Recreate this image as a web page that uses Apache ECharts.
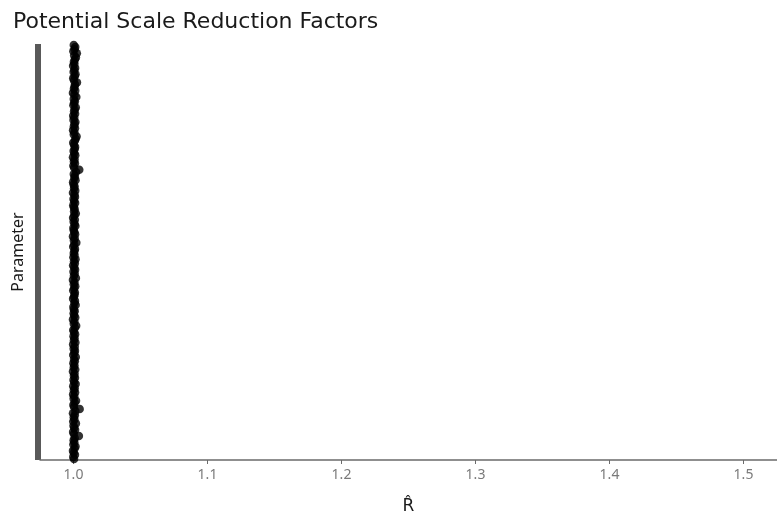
<!DOCTYPE html>
<html>
<head>
<meta charset="utf-8">
<script src="https://cdn.jsdelivr.net/npm/echarts@6/dist/echarts.min.js"></script>
<style>
  html, body { margin: 0; padding: 0; background: #fff; }
  #chart { width: 777px; height: 522px; }
</style>
</head>
<body>
<div id="chart"></div>
<script>
// R-hat values per parameter, listed from the bottom of the axis upward
const rhatValues = [
  1.0004, 0.9998, 1.0011, 1.0002, 0.9996, 1.0008, 1.0015, 0.9999, 1.0006, 1.0001,
  1.0009, 1.0040, 1.0003, 0.9997, 1.0012, 1.0005, 1.0000, 1.0018, 0.9998, 1.0007,
  1.0002, 1.0010, 0.9996, 1.0014, 1.0046, 1.0004, 0.9999, 1.0008, 1.0019, 1.0001,
  1.0006, 0.9997, 1.0012, 1.0003, 1.0009, 0.9998, 1.0016, 1.0005, 1.0000, 1.0011,
  1.0003, 1.0008, 0.9996, 1.0013, 1.0002, 1.0007, 0.9999, 1.0010, 1.0004, 1.0017,
  0.9998, 1.0006, 1.0011, 1.0001, 1.0009, 0.9997, 1.0014, 1.0003, 1.0008, 1.0000,
  1.0012, 1.0004, 0.9998, 1.0010, 1.0020, 1.0002, 1.0007, 0.9996, 1.0013, 1.0005,
  1.0001, 1.0009, 1.0003, 0.9999, 1.0016, 1.0006, 1.0011, 0.9997, 1.0004, 1.0008,
  1.0010, 0.9998, 1.0005, 1.0013, 1.0002, 1.0007, 0.9996, 1.0018, 1.0003, 1.0009,
  1.0000, 1.0012, 1.0006, 0.9997, 1.0010, 1.0004, 1.0015, 0.9999, 1.0008, 1.0002,
  1.0007, 1.0011, 0.9998, 1.0005, 1.0021, 1.0003, 1.0009, 0.9996, 1.0012, 1.0006,
  1.0002, 0.9999, 1.0014, 1.0008, 1.0001, 1.0010, 0.9997, 1.0006, 1.0017, 1.0004,
  1.0009, 1.0003, 0.9998, 1.0012, 1.0005, 1.0000, 1.0011, 1.0007, 0.9996, 1.0013,
  1.0004, 1.0008, 1.0001, 0.9997, 1.0015, 1.0006, 1.0010, 1.0002, 1.0019, 1.0043,
  1.0005, 0.9999, 1.0011, 1.0003, 1.0008, 0.9996, 1.0013, 1.0006, 1.0001, 1.0009,
  1.0012, 1.0004, 0.9998, 1.0010, 1.0016, 1.0023, 1.0002, 1.0007, 0.9997, 1.0011,
  1.0003, 1.0008, 1.0014, 1.0000, 1.0006, 0.9998, 1.0012, 1.0004, 1.0009, 1.0017,
  0.9999, 1.0005, 1.0010, 1.0002, 1.0021, 1.0007, 0.9996, 1.0013, 1.0003, 1.0008,
  1.0011, 1.0026, 1.0004, 0.9998, 1.0009, 1.0015, 1.0001, 1.0006, 1.0012, 0.9997,
  1.0007, 1.0003, 1.0010, 1.0018, 1.0005, 1.0025, 0.9999, 1.0008, 1.0013, 1.0002
];

// Parameter names (one per value; not shown as labels)
const parameterNames = rhatValues.map((_, i) => 'theta[' + (i + 1) + ']');

// Tick positions along the R-hat axis
const xTicks = [1.0, 1.1, 1.2, 1.3, 1.4, 1.5];

const chart = echarts.init(document.getElementById('chart'), null, { renderer: 'canvas' });

const font = '"Noto Sans", "Open Sans", sans-serif';

chart.setOption({
  animation: false,
  backgroundColor: '#ffffff',
  title: {
    text: 'Potential Scale Reduction Factors',
    left: 8,
    top: 6,
    textStyle: { fontFamily: '"DejaVu Sans", sans-serif', fontSize: 22, fontWeight: 'normal', color: '#1a1a1a' }
  },
  grid: { left: 40, right: 0, top: 44, bottom: 62, containLabel: false },
  xAxis: {
    type: 'value',
    min: 0.975,
    max: 1.525,
    name: 'R\u0302',
    nameLocation: 'middle',
    nameGap: 38,
    nameTextStyle: { fontFamily: '"DejaVu Sans", sans-serif', fontSize: 17, color: '#1a1a1a' },
    splitLine: { show: false },
    axisLine: { show: true, lineStyle: { color: '#6b6b6b', width: 1.5 } },
    axisTick: { show: true, length: 4, customValues: xTicks, lineStyle: { color: '#6b6b6b', width: 1 } },
    axisLabel: {
      customValues: xTicks,
      formatter: v => v.toFixed(1),
      margin: 8,
      fontFamily: font,
      fontSize: 14,
      color: '#7a7a7a'
    }
  },
  yAxis: {
    type: 'category',
    data: parameterNames,
    boundaryGap: true,
    offset: 2,
    name: 'Parameter',
    nameLocation: 'middle',
    nameRotate: 90,
    nameGap: 12,
    nameTextStyle: { fontFamily: font, fontSize: 16, color: '#1a1a1a' },
    // the dense parameter ticks merge into one solid band along the axis
    axisLine: { show: true, lineStyle: { color: '#595959', width: 6, cap: 'butt' } },
    axisTick: { show: false },
    axisLabel: { show: false },
    splitLine: { show: false }
  },
  series: [{
    type: 'scatter',
    data: rhatValues.map((v, i) => [v, parameterNames[i]]),
    symbol: 'circle',
    symbolSize: 8.5,
    itemStyle: { color: '#000000' }
  }]
});
</script>
</body>
</html>
